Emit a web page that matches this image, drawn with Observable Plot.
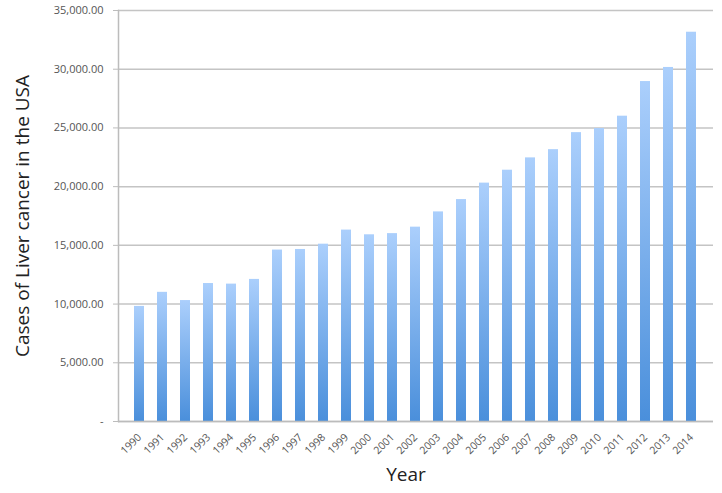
<!DOCTYPE html>
<html>
<head>
<meta charset="utf-8">
<script src="https://cdn.jsdelivr.net/npm/d3@7"></script>
<script src="https://cdn.jsdelivr.net/npm/@observablehq/plot@0.6"></script>
<style>
  html, body { margin: 0; padding: 0; background: #fff; }
  #chart { width: 722px; height: 493px; }
</style>
</head>
<body>
<div id="chart"></div>
<script>
const years = ["1990","1991","1992","1993","1994","1995","1996","1997","1998","1999","2000","2001","2002","2003","2004","2005","2006","2007","2008","2009","2010","2011","2012","2013","2014"];
const cases = [9800, 11000, 10300, 11750, 11700, 12100, 14600, 14650, 15100, 16300, 15900, 16000, 16550, 17850, 18900, 20300, 21400, 22450, 23150, 24600, 24950, 26000, 28950, 30150, 33150];
const yTicks = [0, 5000, 10000, 15000, 20000, 25000, 30000, 35000];
const yTitle = "Cases of Liver cancer in the USA";
const xTitle = "Year";

const data = years.map((y, i) => ({year: y, value: cases[i]}));
const fmt = d3.format(",.2f");

const chart = Plot.plot({
  width: 722,
  height: 493,
  marginLeft: 118,
  marginRight: 9,
  marginTop: 10,
  marginBottom: 72,
  style: {fontFamily: "'Open Sans', sans-serif", background: "#fff", color: "#555"},
  x: {domain: years, padding: 0.56, align: 0.5},
  y: {domain: [0, 35000]},
  marks: [
    Plot.gridY(yTicks, {stroke: "#c4c4c4", strokeOpacity: 1, strokeWidth: 1.5}),
    Plot.barY(data, {x: "year", y: "value", fill: "url(#barGrad)"}),
    Plot.frame({anchor: "left", stroke: "#bcbcbc", strokeWidth: 1.5}),
    Plot.ruleY([0], {stroke: "#bcbcbc", strokeWidth: 1.5}),
    Plot.axisY({ticks: yTicks, tickSize: 5, tickPadding: 10, stroke: "#bcbcbc", fontSize: 11, fill: "#555", label: null,
      tickFormat: d => d === 0 ? "-" : fmt(d)}),
    Plot.axisX({tickRotate: -45, tickSize: 0, tickPadding: 14, fontSize: 10.5, fill: "#555", label: null}),
    Plot.text([yTitle], {frameAnchor: "left", textAnchor: "middle", rotate: -90, dx: -96, fontSize: 19, fill: "#222"}),
    Plot.text([xTitle], {frameAnchor: "bottom", textAnchor: "middle", dx: -10, dy: 59, fontSize: 19, fill: "#222"})
  ]
});

const ns = "http://www.w3.org/2000/svg";
const defs = document.createElementNS(ns, "defs");
const grad = document.createElementNS(ns, "linearGradient");
grad.setAttribute("id", "barGrad");
grad.setAttribute("x1", "0"); grad.setAttribute("y1", "0");
grad.setAttribute("x2", "0"); grad.setAttribute("y2", "1");
[["0%", "#abcffc"], ["100%", "#4a8fdb"]].forEach(([o, c]) => {
  const s = document.createElementNS(ns, "stop");
  s.setAttribute("offset", o); s.setAttribute("stop-color", c);
  grad.appendChild(s);
});
defs.appendChild(grad);
chart.insertBefore(defs, chart.firstChild);
document.getElementById("chart").appendChild(chart);
</script>
</body>
</html>
